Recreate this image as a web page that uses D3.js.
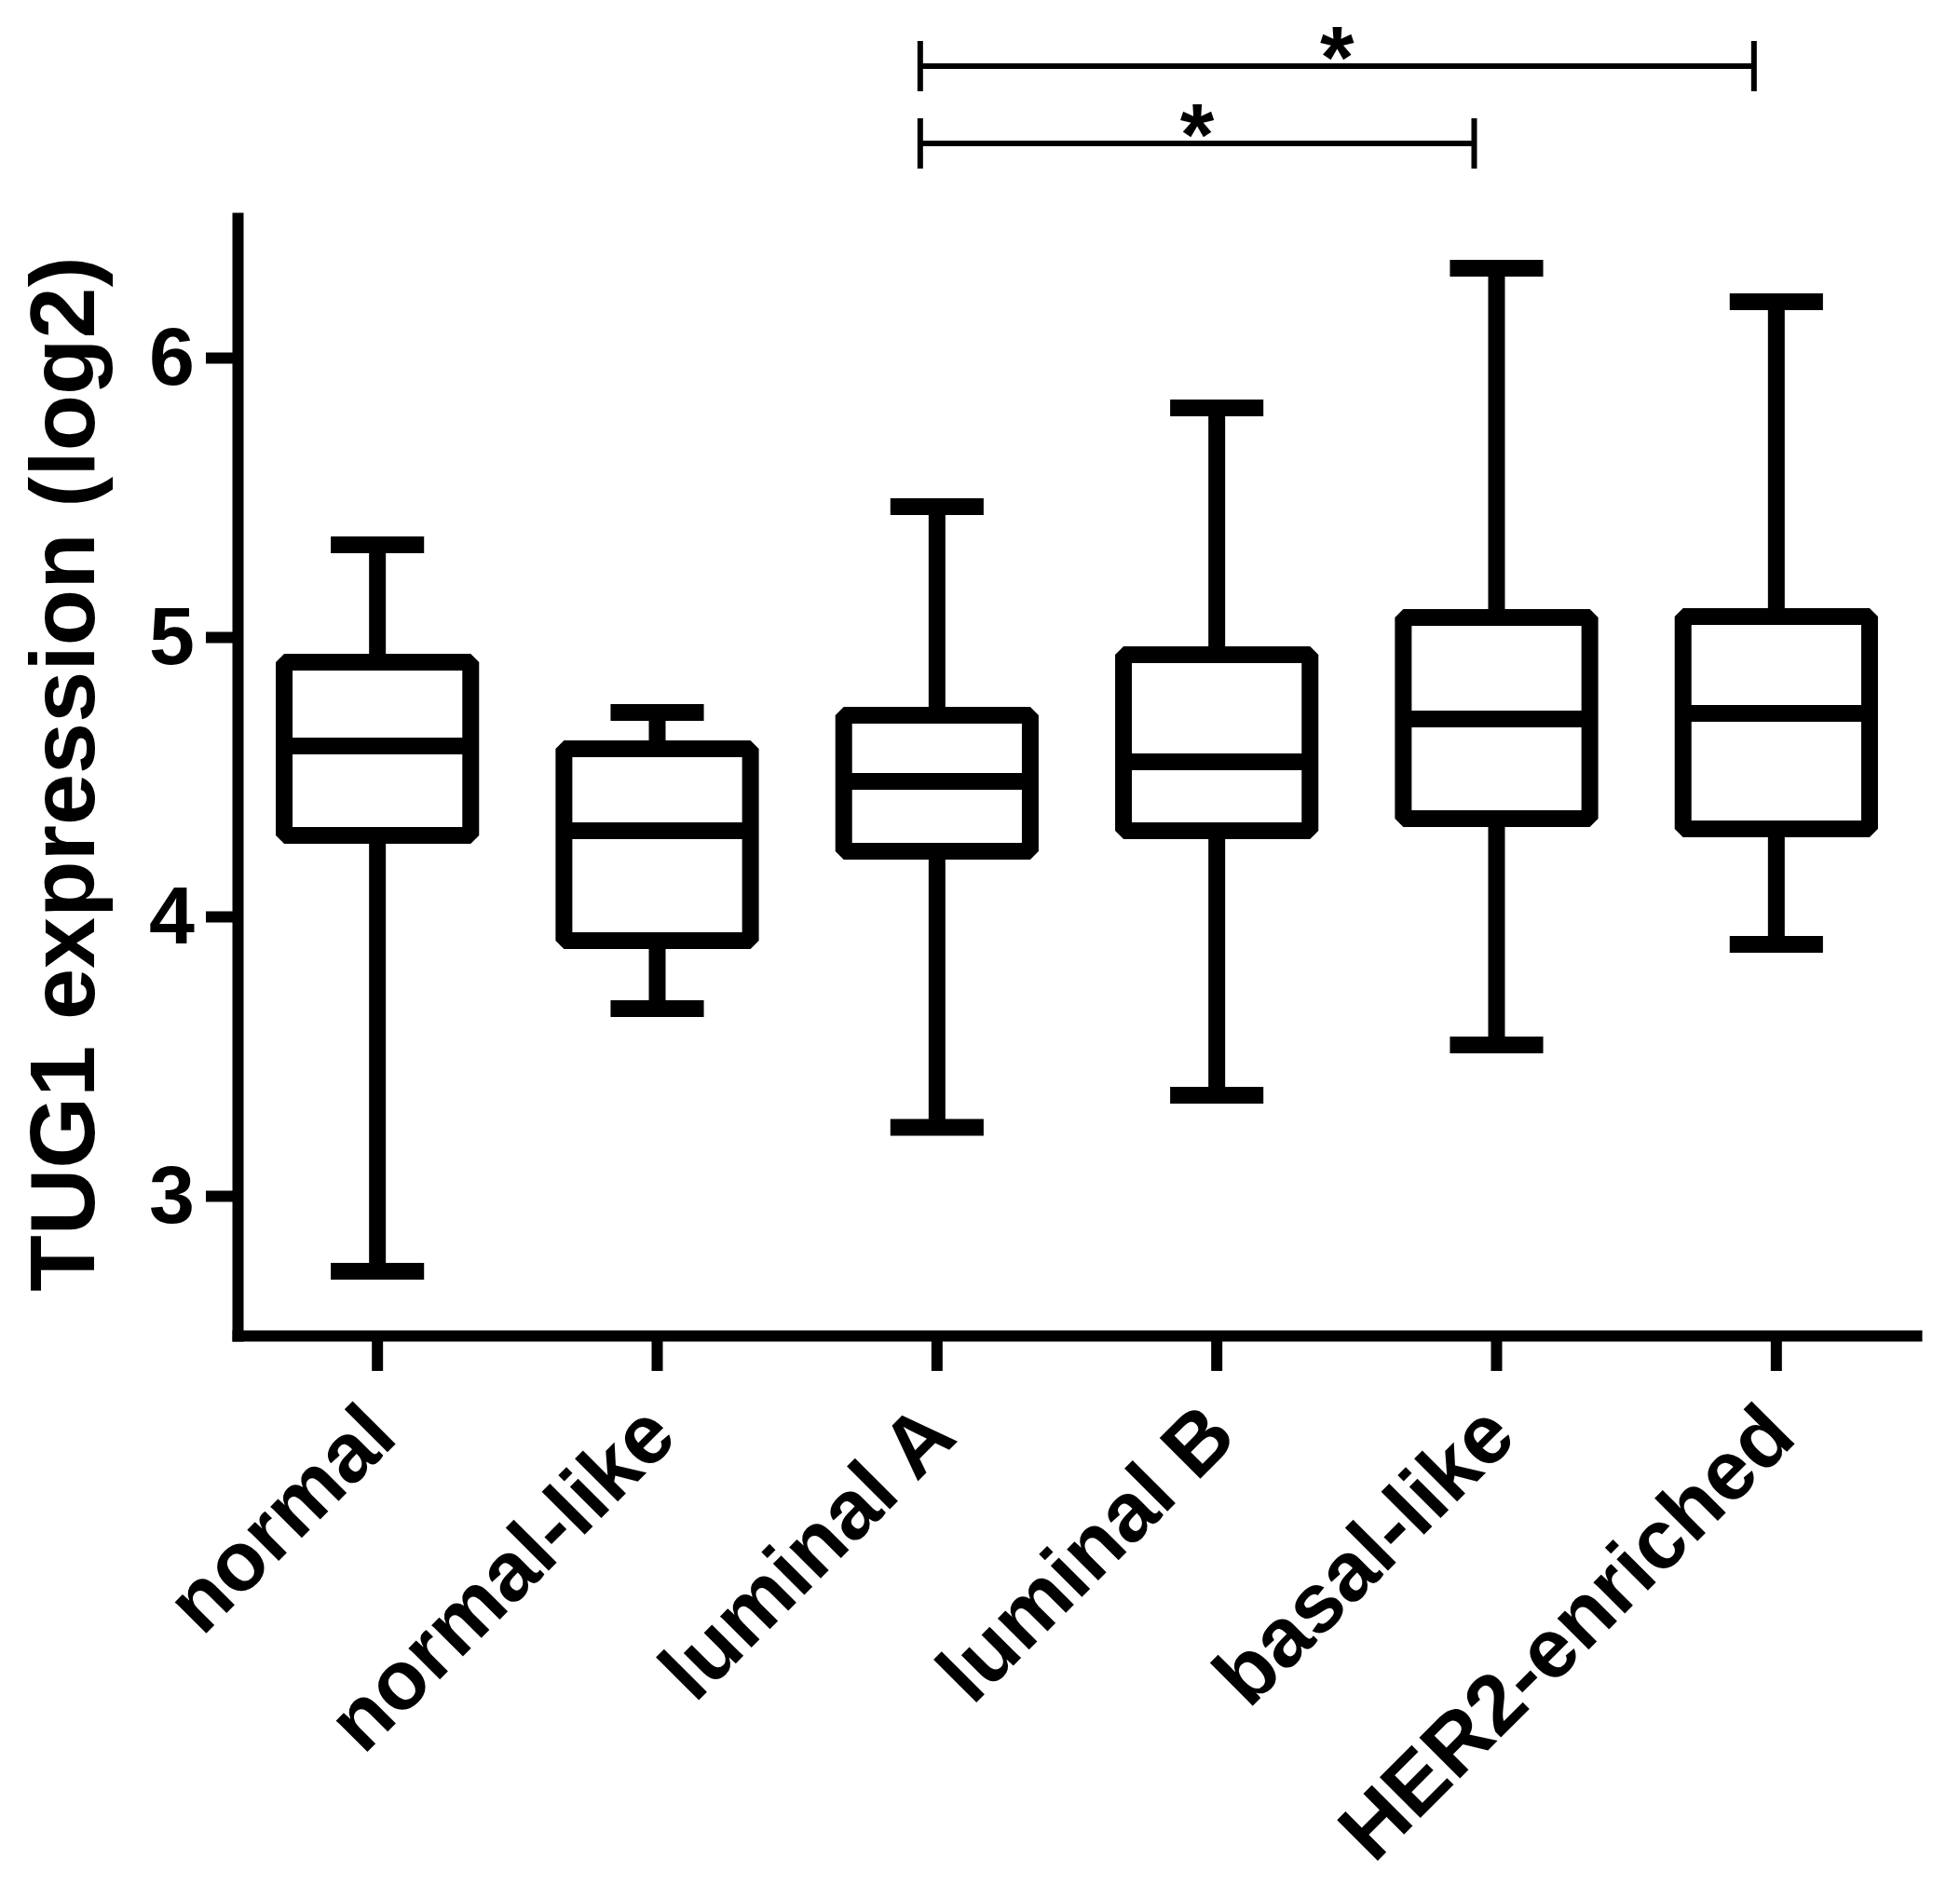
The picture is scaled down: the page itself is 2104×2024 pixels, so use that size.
<!DOCTYPE html>
<html>
<head>
<meta charset="utf-8">
<script src="https://cdn.jsdelivr.net/npm/d3@7/dist/d3.min.js"></script>
<style>
  body { margin: 0; background: #fff; }
  text { font-family: "Liberation Sans", Arial, sans-serif; font-weight: bold; }
</style>
</head>
<body>
<div id="chart"></div>
<script>
// box plot data (log2 expression)
var categories = ['normal', 'normal-like', 'luminal A', 'luminal B', 'basal-like', 'HER2-enriched'];
var whiskerLow  = [2.73, 3.67, 3.245, 3.36, 3.54, 3.90];
var q1          = [4.29, 3.913, 4.233, 4.307, 4.35, 4.313];
var median      = [4.61, 4.307, 4.483, 4.553, 4.707, 4.727];
var q3          = [4.91, 4.60, 4.72, 4.937, 5.07, 5.073];
var whiskerHigh = [5.33, 4.73, 5.467, 5.82, 6.32, 6.20];

var yTicks = [3, 4, 5, 6];
var yTitle = 'TUG1 expression (log2)';

// significance brackets
var bracketFrom  = ['luminal A', 'luminal A'];
var bracketTo    = ['HER2-enriched', 'basal-like'];
var bracketLabel = ['*', '*'];

var w = 2104;
var h = 2024;

var svg = d3.select('#chart').append('svg')
  .attr('width', w)
  .attr('height', h);

var x = d3.scaleBand()
  .domain(categories)
  .range([255, 2057])
  .padding(0);

var y = d3.scaleLinear()
  .domain([2.5, 6.5])
  .range([1434, 234]);

var bw = x.bandwidth();
var boxW = bw * 2 / 3;
var capW = bw / 3;
var sw = 18;

// y axis
var gy = svg.append('g')
  .attr('transform', 'translate(255,0)')
  .call(d3.axisLeft(y)
    .tickValues(yTicks)
    .tickSize(34)
    .tickSizeOuter(0)
    .tickPadding(12)
    .tickFormat(d3.format('d')));
gy.select('.domain')
  .attr('stroke', '#000')
  .attr('stroke-width', 12)
  .attr('stroke-linecap', 'square');
gy.selectAll('.tick line')
  .attr('stroke', '#000')
  .attr('stroke-width', 12);
gy.selectAll('.tick text')
  .attr('fill', '#000')
  .style('font-size', '88px');

// x axis
var gx = svg.append('g')
  .attr('transform', 'translate(0,1434)')
  .call(d3.axisBottom(x)
    .tickSize(38)
    .tickSizeOuter(0)
    .tickFormat(''));
gx.select('.domain')
  .attr('stroke', '#000')
  .attr('stroke-width', 12)
  .attr('stroke-linecap', 'square');
gx.selectAll('.tick line')
  .attr('stroke', '#000')
  .attr('stroke-width', 12);
gx.selectAll('.tick')
  .append('text')
  .attr('fill', '#000')
  .attr('text-anchor', 'end')
  .attr('transform', 'translate(24,112) rotate(-45)')
  .style('font-size', '90px')
  .text(function(d) { return d; });

// y title
svg.append('text')
  .attr('transform', 'translate(66,831) rotate(-90)')
  .attr('text-anchor', 'middle')
  .attr('dominant-baseline', 'central')
  .style('font-size', '99px')
  .text(yTitle);

// boxes
var g = svg.append('g')
  .attr('stroke', '#000')
  .attr('stroke-width', sw)
  .attr('fill', 'none');

categories.forEach(function(c, i) {
  var cx = x(c) + bw / 2;

  g.append('line')
    .attr('x1', cx).attr('x2', cx)
    .attr('y1', y(whiskerLow[i])).attr('y2', y(q1[i]));
  g.append('line')
    .attr('x1', cx).attr('x2', cx)
    .attr('y1', y(q3[i])).attr('y2', y(whiskerHigh[i]));

  g.append('line')
    .attr('x1', cx - capW / 2).attr('x2', cx + capW / 2)
    .attr('y1', y(whiskerLow[i])).attr('y2', y(whiskerLow[i]));
  g.append('line')
    .attr('x1', cx - capW / 2).attr('x2', cx + capW / 2)
    .attr('y1', y(whiskerHigh[i])).attr('y2', y(whiskerHigh[i]));

  g.append('rect')
    .attr('x', cx - boxW / 2)
    .attr('width', boxW)
    .attr('y', y(q3[i]))
    .attr('height', y(q1[i]) - y(q3[i]))
    .attr('fill', '#fff')
    .attr('stroke-linejoin', 'bevel');

  g.append('line')
    .attr('x1', cx - boxW / 2).attr('x2', cx + boxW / 2)
    .attr('y1', y(median[i])).attr('y2', y(median[i]));
});

// significance brackets
var bracketY = [71, 154];
var tickH = 27;

bracketFrom.forEach(function(from, i) {
  var x1 = x(from) + bw / 2 - 18;
  var x2 = x(bracketTo[i]) + bw / 2 - 24;
  var by = bracketY[i];
  var bg = svg.append('g')
    .attr('stroke', '#000')
    .attr('stroke-width', 6);
  bg.append('line').attr('x1', x1).attr('x2', x2).attr('y1', by).attr('y2', by);
  bg.append('line').attr('x1', x1).attr('x2', x1).attr('y1', by - tickH).attr('y2', by + tickH);
  bg.append('line').attr('x1', x2).attr('x2', x2).attr('y1', by - tickH).attr('y2', by + tickH);
  svg.append('text')
    .attr('x', (x1 + x2) / 2)
    .attr('y', by + 23)
    .attr('text-anchor', 'middle')
    .style('font-size', '94px')
    .text(bracketLabel[i]);
});
</script>
</body>
</html>
